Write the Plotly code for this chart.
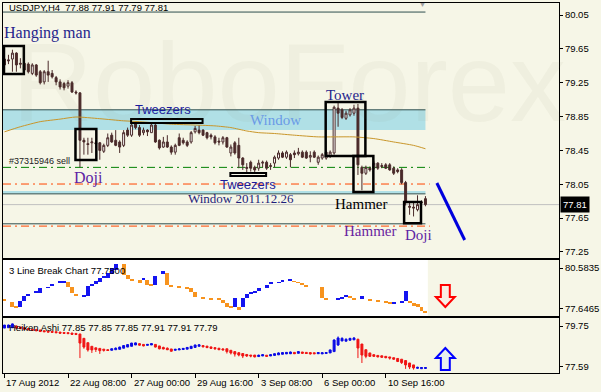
import plotly.graph_objects as go

# ---------------- data ----------------
bar_idx = list(range(107))

candle_open = [79.53,79.52,79.53,79.60,79.48,79.48,79.47,79.36,79.46,79.38,
 79.26,79.38,79.36,79.31,79.26,79.24,79.21,79.25,79.14,79.13,
 78.57,78.53,78.54,78.54,78.54,78.44,78.51,78.63,78.57,78.55,
 78.51,78.69,78.63,78.77,78.72,78.66,78.69,78.66,78.75,78.57,
 78.49,78.55,78.49,78.43,78.60,78.57,78.55,78.55,78.67,78.69,
 78.69,78.66,78.63,78.61,78.56,78.55,78.60,78.42,78.54,78.51,
 78.36,78.25,78.31,78.25,78.24,78.30,78.31,78.26,78.30,78.36,
 78.42,78.37,78.40,78.42,78.41,78.43,78.43,78.37,78.43,78.31,
 78.36,78.36,78.38,78.42,78.95,78.93,78.83,78.87,78.89,78.95,
 78.25,78.18,78.24,78.24,78.30,78.26,78.28,78.28,78.24,78.22,
 78.22,78.07,77.79,77.78,77.75,77.83,77.88]
candle_high = [79.55,79.58,79.64,79.61,79.54,79.50,79.49,79.48,79.47,79.40,
 79.40,79.51,79.40,79.33,79.29,79.26,79.28,79.27,79.16,79.14,
 78.60,78.60,78.60,78.57,78.55,78.53,78.65,78.66,78.69,78.57,
 78.69,78.72,78.78,78.79,78.75,78.72,78.70,78.77,78.77,78.58,
 78.61,78.63,78.51,78.53,78.65,78.60,78.57,78.68,78.74,78.75,
 78.70,78.67,78.65,78.63,78.60,78.62,78.61,78.52,78.56,78.60,
 78.37,78.30,78.33,78.27,78.34,78.33,78.33,78.30,78.39,78.45,
 78.44,78.45,78.42,78.45,78.48,78.45,78.45,78.44,78.45,78.39,
 78.42,78.45,78.45,78.98,79.01,78.95,78.92,78.95,78.99,79.00,
 78.27,78.27,78.26,78.33,78.31,78.30,78.30,78.30,78.26,78.24,
 78.24,78.09,77.84,77.83,77.92,77.86,77.91]
candle_low = [79.44,79.47,79.38,79.38,79.42,79.38,79.36,79.34,79.32,79.23,
 79.23,79.26,79.30,79.22,79.17,79.16,79.18,79.13,79.11,78.25,
 78.40,78.40,78.42,78.48,78.34,78.42,78.49,78.54,78.50,78.42,
 78.49,78.61,78.61,78.70,78.61,78.63,78.62,78.66,78.54,78.46,
 78.48,78.48,78.40,78.40,78.50,78.52,78.49,78.53,78.65,78.64,
 78.62,78.58,78.58,78.52,78.51,78.52,78.48,78.38,78.40,78.24,
 78.22,78.19,78.20,78.19,78.21,78.25,78.22,78.22,78.25,78.34,
 78.36,78.35,78.25,78.36,78.39,78.36,78.35,78.31,78.36,78.28,
 78.34,78.34,78.36,78.40,78.73,78.82,78.81,78.85,78.86,78.16,
 77.98,78.16,78.20,78.22,78.22,78.24,78.23,78.21,78.16,78.18,
 78.05,77.80,77.69,77.67,77.73,77.81,77.79]
candle_close = [79.46,79.51,79.60,79.46,79.47,79.40,79.38,79.46,79.34,79.25,
 79.38,79.34,79.32,79.26,79.20,79.19,79.25,79.14,79.13,78.57,
 78.55,78.52,78.55,78.53,78.45,78.51,78.60,78.55,78.51,78.49,
 78.66,78.63,78.75,78.72,78.63,78.69,78.67,78.75,78.55,78.48,
 78.55,78.49,78.43,78.51,78.51,78.54,78.51,78.66,78.71,78.66,
 78.63,78.60,78.61,78.54,78.55,78.60,78.49,78.49,78.42,78.36,
 78.28,78.24,78.24,78.22,78.30,78.31,78.24,78.27,78.37,78.42,
 78.37,78.43,78.34,78.40,78.43,78.37,78.36,78.39,78.37,78.37,
 78.40,78.43,78.43,78.96,78.89,78.84,78.89,78.93,78.95,78.28,
 78.18,78.25,78.22,78.30,78.24,78.27,78.24,78.22,78.18,78.20,
 78.07,77.84,77.78,77.77,77.81,77.84,77.81]

ma_idx = [0,4,9,14,18,24,30,34,42,48,53,57,61,64,68,73,79,83,88,93,98,103,106]
ma_val = [78.67,78.73,78.79,78.82,78.845,78.825,78.80,78.79,78.76,78.75,78.74,78.72,
 78.68,78.66,78.65,78.63,78.61,78.61,78.61,78.59,78.55,78.51,78.47]

lb_idx = [0,2,3,4,5,6,8,9,11,12,
 14,15,16,17,18,20,21,22,23,24,
 25,26,27,28,30,31,32,34,35,36,
 37,38,40,41,42,44,46,47,48,50,
 52,54,55,56,57,58,59,60,61,62,
 63,64,66,67,69,70,72,73,74,75,
 76,80,81,84,85,86,87,88,90,92,
 94,96,97,98,100,101,102,103,104,105,
 106]
lb_low = [78.22,77.79,77.72,77.79,78.22,78.58,78.79,78.79,79.15,79.29,
 79.51,79.56,79.22,78.79,78.58,78.51,78.58,79.29,79.44,79.58,
 79.87,79.87,80.15,80.44,80.08,79.80,79.72,79.51,79.72,79.37,
 79.29,79.37,80.15,79.37,79.29,79.15,79.10,78.86,78.51,78.43,
 78.36,78.33,78.08,77.79,77.72,77.79,77.60,77.79,78.43,78.72,
 78.83,78.94,79.15,79.44,79.51,79.65,79.65,79.58,79.51,79.37,
 79.22,78.43,78.36,78.36,78.43,78.51,78.43,78.33,78.33,78.26,
 78.19,78.08,78.01,78.01,78.08,78.22,78.08,77.83,77.76,77.47,
 77.36]
lb_high = [78.36,78.15,77.79,78.22,78.58,78.72,78.94,79.15,79.22,79.44,
 79.65,79.62,79.58,79.22,78.72,78.58,79.29,79.44,79.65,79.87,
 80.01,80.23,80.58,80.87,80.87,80.08,79.80,79.72,79.87,79.72,
 79.44,80.01,80.37,80.23,79.37,79.29,79.22,79.15,78.86,78.51,
 78.43,78.40,78.29,78.08,77.79,78.43,77.79,78.43,78.72,78.86,
 78.94,79.15,79.37,79.51,79.58,79.72,79.80,79.65,79.58,79.51,
 79.37,79.22,78.43,78.43,78.51,78.65,78.58,78.43,78.58,78.33,
 78.26,78.19,78.08,78.12,78.19,78.94,78.22,78.08,77.97,77.76,
 77.47]
lb_dir = [0,0,0,1,1,1,1,1,1,1,
 1,1,0,0,0,1,1,1,1,1,
 1,1,1,1,0,0,0,0,1,0,
 0,1,1,0,0,0,0,0,0,0,
 0,0,0,0,0,1,0,1,1,1,
 1,1,1,1,1,1,1,0,0,0,
 0,0,0,1,1,1,0,0,1,0,
 0,0,0,1,1,1,0,0,0,0,
 0]

ha_open = [79.64,79.66,79.66,79.75,79.70,79.66,79.62,79.58,79.56,79.54,
 79.50,79.48,79.47,79.45,79.43,79.41,79.40,79.38,79.36,79.33,
 79.10,78.87,78.68,78.60,78.57,78.53,78.50,78.47,78.50,78.52,
 78.58,78.64,78.68,78.75,78.82,78.78,78.73,78.75,78.78,78.70,
 78.62,78.58,78.54,78.47,78.49,78.51,78.53,78.56,78.62,78.68,
 78.72,78.69,78.65,78.61,78.58,78.54,78.55,78.47,78.40,78.34,
 78.30,78.25,78.22,78.22,78.14,78.17,78.21,78.17,78.20,78.23,
 78.26,78.28,78.29,78.36,78.31,78.38,78.36,78.35,78.34,78.29,
 78.28,78.30,78.33,78.40,78.75,78.96,78.95,79.00,79.02,79.05,
 78.80,78.50,78.33,78.24,78.20,78.18,78.15,78.12,78.08,78.04,
 78.00,77.93,77.80,77.70,77.52,77.50,77.51]
ha_close = [79.80,79.80,79.86,79.64,79.62,79.58,79.55,79.52,79.50,79.46,
 79.45,79.43,79.42,79.40,79.37,79.36,79.35,79.31,79.30,78.85,
 78.64,78.49,78.49,78.51,78.45,78.47,78.46,78.55,78.58,78.64,
 78.72,78.77,78.85,78.86,78.74,78.70,78.78,78.82,78.64,78.55,
 78.54,78.50,78.42,78.52,78.54,78.57,78.62,78.68,78.75,78.76,
 78.65,78.61,78.57,78.55,78.50,78.49,78.40,78.33,78.27,78.22,
 78.17,78.17,78.17,78.12,78.21,78.24,78.15,78.24,78.29,78.33,
 78.35,78.36,78.38,78.29,78.40,78.31,78.30,78.28,78.29,78.35,
 78.34,78.35,78.49,79.01,79.12,79.10,79.05,79.10,79.12,78.59,
 78.22,78.15,78.15,78.15,78.12,78.10,78.08,78.06,78.00,77.88,
 77.82,77.70,77.59,77.54,77.57,77.56,77.56]
ha_high = [79.80,79.82,79.88,79.78,79.70,79.66,79.62,79.58,79.56,79.54,
 79.50,79.50,79.47,79.45,79.43,79.41,79.40,79.38,79.36,79.33,
 79.10,78.87,78.68,78.60,78.57,78.53,78.52,78.56,78.62,78.66,
 78.74,78.78,78.86,78.88,78.84,78.78,78.80,78.84,78.78,78.70,
 78.66,78.62,78.54,78.54,78.58,78.58,78.63,78.70,78.76,78.78,
 78.72,78.69,78.65,78.61,78.58,78.58,78.55,78.47,78.40,78.38,
 78.30,78.25,78.22,78.22,78.24,78.26,78.21,78.26,78.30,78.36,
 78.36,78.38,78.40,78.38,78.42,78.38,78.36,78.35,78.34,78.36,
 78.36,78.38,78.50,79.05,79.20,79.15,79.10,79.12,79.16,79.08,
 78.80,78.50,78.33,78.24,78.20,78.18,78.15,78.12,78.08,78.04,
 78.00,77.93,77.80,77.70,77.60,77.58,77.58]
ha_low = [79.64,79.66,79.64,79.60,79.58,79.56,79.53,79.50,79.48,79.43,
 79.43,79.42,79.40,79.37,79.34,79.34,79.33,79.28,79.28,78.06,
 78.55,78.40,78.33,78.38,78.28,78.40,78.44,78.47,78.50,78.52,
 78.58,78.64,78.68,78.75,78.72,78.68,78.73,78.75,78.62,78.52,
 78.52,78.48,78.40,78.47,78.49,78.51,78.53,78.56,78.62,78.68,
 78.63,78.59,78.56,78.50,78.48,78.48,78.30,78.25,78.14,78.15,
 78.06,78.12,78.10,78.10,78.14,78.17,78.12,78.17,78.20,78.23,
 78.26,78.28,78.27,78.27,78.31,78.29,78.28,78.25,78.27,78.28,
 78.28,78.30,78.33,78.40,78.70,78.96,78.95,79.00,79.02,78.06,
 77.80,78.05,78.12,78.12,78.10,78.08,78.05,77.98,77.97,77.85,
 77.75,77.49,77.48,77.45,77.50,77.50,77.51]

x_tick_idx = [0, 16, 32, 48, 64, 80, 96]
x_tick_text = ["17 Aug 2012", "22 Aug 08:00", "27 Aug 00:00", "29 Aug 16:00",
               "3 Sep 08:00", "6 Sep 00:00", "10 Sep 16:00"]
main_ticks = [80.05, 79.65, 79.25, 78.85, 78.45, 78.05, 77.65, 77.25]
lb_ticks = [80.5835, 77.6465]
ha_ticks = [79.75, 77.59]
last_price = 77.81
header_text = "USDJPY,H4  77.88 77.91 77.79 77.81"
lb_label = "3 Line Break Chart 77.7800"
ha_label = "Heiken Ashi 77.85 77.85 77.85 77.91 77.91 77.79"

# ---------------- style ----------------
BG = "#F6F6E7"
DARK = "#4A2A2A"
SLATE = "#2F4F4F"
NAVY = "#25258C"
PURPLE = "#5E1FA4"
SANS = "Liberation Sans"
SERIF = "Liberation Serif"

fig = go.Figure()

fig.add_trace(go.Scatter(x=ma_idx, y=ma_val, mode="lines",
                         line=dict(color="#C9962A", width=1, shape="spline", smoothing=0.6),
                         hoverinfo="skip", showlegend=False, xaxis="x", yaxis="y"))
fig.add_trace(go.Candlestick(x=bar_idx, open=candle_open, high=candle_high, low=candle_low,
                             close=candle_close, whiskerwidth=0,
                             increasing=dict(line=dict(color=DARK, width=1), fillcolor="#FFFFFF"),
                             decreasing=dict(line=dict(color=DARK, width=1), fillcolor=DARK),
                             hoverinfo="skip", showlegend=False, xaxis="x", yaxis="y"))

lb_height = [h - l for h, l in zip(lb_high, lb_low)]
lb_colors = ["#1414F0" if d else "#F7931E" for d in lb_dir]
fig.add_trace(go.Bar(x=lb_idx, y=lb_height, base=lb_low, width=1,
                     marker=dict(color=lb_colors, line=dict(width=0)),
                     hoverinfo="skip", showlegend=False, xaxis="x2", yaxis="y2"))

fig.add_trace(go.Candlestick(x=bar_idx, open=ha_open, high=ha_high, low=ha_low, close=ha_close,
                             whiskerwidth=0,
                             increasing=dict(line=dict(color="#0A0AE6", width=1), fillcolor="#0A0AE6"),
                             decreasing=dict(line=dict(color="#F01414", width=1), fillcolor="#F01414"),
                             hoverinfo="skip", showlegend=False, xaxis="x3", yaxis="y3"))

XL, XR = -0.375, 139.625
ax_common = dict(range=[XL, XR], showgrid=False, zeroline=False, showline=True,
                 linecolor="black", linewidth=1, mirror=True, fixedrange=True)
y_common = dict(side="right", showgrid=False, zeroline=False, showline=True, linecolor="black",
                linewidth=1, mirror=True, fixedrange=True, ticks="outside", ticklen=3,
                tickcolor="black", tickfont=dict(family=SANS, size=9.5, color="black"))

fig.update_layout(
    width=601, height=392, margin=dict(l=2, r=39, t=3, b=19),
    paper_bgcolor=BG, plot_bgcolor=BG, showlegend=False, bargap=0,
    font=dict(family=SANS, size=10, color="black"),
    xaxis=dict(**ax_common, anchor="y", showticklabels=False, ticks="",
               rangeslider=dict(visible=False)),
    xaxis2=dict(**ax_common, anchor="y2", showticklabels=False, ticks=""),
    xaxis3=dict(**ax_common, anchor="y3", ticks="outside", ticklen=4, tickcolor="black",
                tickvals=x_tick_idx, showticklabels=False, rangeslider=dict(visible=False)),
    yaxis=dict(**y_common, domain=[0.3108, 1.0], range=[77.179, 80.192], anchor="x",
               tickvals=main_ticks, ticktext=[f"{v:.2f}" for v in main_ticks]),
    yaxis2=dict(**y_common, domain=[0.1541, 0.3054], range=[77.145, 81.157], anchor="x2",
                tickvals=lb_ticks, ticktext=[f"{v:.4f}" for v in lb_ticks]),
    yaxis3=dict(**y_common, domain=[0.0, 0.1486], range=[77.273, 80.171], anchor="x3",
                tickvals=ha_ticks, ticktext=[f"{v:.2f}" for v in ha_ticks]),
)

shapes = []
# white backdrop of line-break window
shapes.append(dict(type="rect", xref="x2", yref="y2 domain", x0=XL, x1=106.6, y0=0, y1=1,
                   fillcolor="white", line=dict(width=0), layer="below"))
# window band
shapes.append(dict(type="rect", xref="x", yref="y", x0=XL, x1=106, y0=78.69, y1=78.93,
                   fillcolor="#B0E0E6", line=dict(width=0), layer="below"))
# window 2011.12.26 thin band
shapes.append(dict(type="rect", xref="x", yref="y", x0=XL, x1=106, y0=77.94, y1=77.97,
                   fillcolor="#B0E0E6", line=dict(width=0), layer="below"))

def hline(y, x1, color, dash="solid", width=1, layer="below"):
    shapes.append(dict(type="line", xref="x", yref="y", x0=XL, x1=x1, y0=y, y1=y,
                       line=dict(color=color, width=width, dash=dash), layer=layer))

hline(80.085, 106, SLATE)
hline(78.93, 106, SLATE)
hline(78.25, 107.1, "#008000", "8px,4px,2px,4px")
hline(78.053, 107.1, "#FF4500", "8px,4px,2px,4px")
hline(77.937, 106, SLATE)
hline(last_price, XR, "#C0C0C0")
hline(77.583, 106, SLATE)
hline(77.556, 107.1, "#FF4500", "8px,4px,2px,4px")

def box(x0, x1, y0, y1, w=2.5):
    shapes.append(dict(type="rect", xref="x", yref="y", x0=x0, x1=x1, y0=y0, y1=y1,
                       line=dict(color="black", width=w), fillcolor="rgba(0,0,0,0)", layer="above"))

box(-0.125, 4.875, 79.353, 79.684)      # hanging man
box(17.875, 23.125, 78.337, 78.703)     # doji
box(31.875, 49.875, 78.774, 78.821, 2)  # tweezers top
box(56.875, 65.875, 78.148, 78.183, 2)  # tweezers bottom
box(80.875, 90.875, 78.384, 79.022)     # tower
box(87.875, 92.875, 77.959, 78.384)     # hammer
box(100.625, 104.875, 77.59, 77.84)     # doji 2

# blue trend line
shapes.append(dict(type="line", xref="x", yref="y", x0=108.875, y0=78.065, x1=115.875, y1=77.392,
                   line=dict(color="#0000DD", width=3), layer="above"))
# red down arrow (line-break window)
shapes.append(dict(type="path", xref="x2", yref="y2",
                   path="M 109.875,79.366 L 112.125,79.366 L 112.125,78.506 L 113.375,78.506 "
                        "L 111,77.79 L 108.625,78.506 L 109.875,78.506 Z",
                   line=dict(color="#FF0000", width=2), fillcolor="rgba(255,220,220,0.3)"))
# blue up arrow (Heiken Ashi window)
shapes.append(dict(type="path", xref="x3", yref="y3",
                   path="M 111,78.591 L 113.375,78.064 L 112.125,78.064 L 112.125,77.432 "
                        "L 109.875,77.432 L 109.875,78.064 L 108.625,78.064 Z",
                   line=dict(color="#0000FF", width=2), fillcolor="rgba(200,220,255,0.3)"))
fig.update_layout(shapes=shapes)

ann = []
# watermark
ann.append(dict(text="RoboForex", xref="x", yref="y", x=71.6, y=79.25, xanchor="center",
                yanchor="middle", showarrow=False,
                font=dict(family=SANS, size=112, color="rgba(110,110,80,0.05)")))

def label(text, x, y, size, color, family=SERIF, xref="x", yref="y"):
    ann.append(dict(text=text, xref=xref, yref=yref, x=x, y=y, xanchor="left", yanchor="middle",
                    showarrow=False, borderpad=0, font=dict(family=family, size=size, color=color)))

label(header_text, 1.0, 80.14, 9.5, "black", SANS)
label("Hanging man", -0.3, 79.837, 16, NAVY)
label("Tweezers", 32.7, 78.928, 13, "#1C1C9C", SANS)
label("Window", 61.5, 78.81, 15, "#6A9AE6")
label("Tower", 80.7, 79.105, 15, NAVY)
label("Doji", 17.2, 78.124, 16, PURPLE)
label("#37315946 sell", 1.0, 78.325, 9, "#222222", SANS)
label("Tweezers", 54.0, 78.053, 13, "#1C1C9C", SANS)
label("Window 2011.12.26", 46.0, 77.888, 13, "#1E1E7A")
label("Hammer", 83.0, 77.817, 15, "black")
label("Hammer", 85.2, 77.498, 15, "#6A1FA0")
label("Doji", 100.5, 77.451, 15, PURPLE)
label(lb_label, 0.8, 80.44, 9.5, "black", SANS, "x2", "y2")
label(ha_label, 0.8, 79.645, 9.5, "black", SANS, "x3", "y3")

# chart-shift marker
ann.append(dict(text="▼", xref="x", yref="paper", x=105.2, y=0.995, xanchor="center",
                yanchor="middle", showarrow=False, font=dict(size=7, color="#A0A0A0")))
# last price label
ann.append(dict(text=f"{last_price:.2f}", xref="paper", yref="y", x=1.0, y=last_price,
                xanchor="left", yanchor="middle", xshift=1, showarrow=False, bgcolor="black",
                borderpad=2, font=dict(family=SANS, size=9.5, color="white")))
# bottom time labels
for i, t in zip(x_tick_idx, x_tick_text):
    ann.append(dict(text=t, xref="x3", yref="paper", x=i, y=-0.027, xanchor="left",
                    yanchor="middle", showarrow=False, borderpad=0, xshift=1,
                    font=dict(family=SANS, size=9.5, color="black")))
fig.update_layout(annotations=ann)

fig.write_html("out.html")
